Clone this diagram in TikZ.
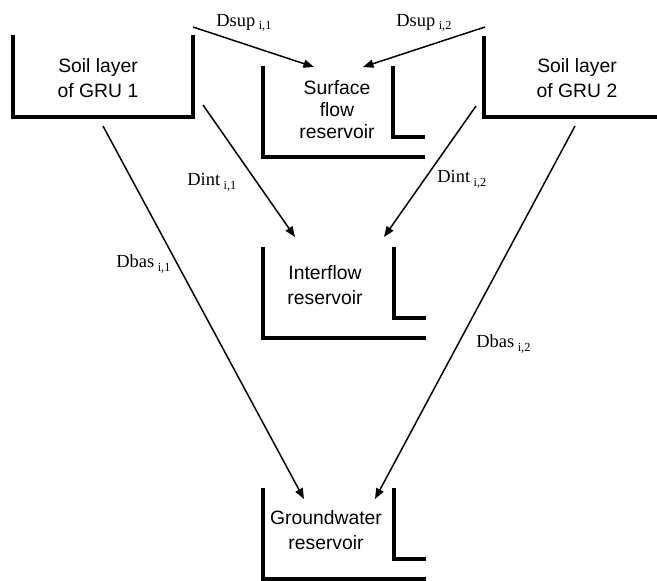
\documentclass[tikz,border=0pt]{standalone}
\usepackage{fontspec}
\setmainfont{Liberation Serif}
\setsansfont{Liberation Sans}
\usetikzlibrary{arrows.meta}

% small lowered index after a flux name
\newcommand{\fluxidx}[1]{\hspace{2pt}\raisebox{-0.4ex}{\fontsize{7}{8}\selectfont #1}}

\begin{document}
\begin{tikzpicture}[
    x=0.02cm, y=-0.02cm,
    wall/.style={draw=black, line width=2pt},
    flow/.style={-{Triangle[length=6pt,width=4.6pt]}, draw=black, line width=0.85pt},
    store/.style={font=\sffamily\fontsize{11}{14}\selectfont, align=center, inner sep=0pt},
    fluxlab/.style={font=\fontsize{10.5}{12}\selectfont, anchor=base west, inner sep=0pt}
    ]
    \useasboundingbox (0,0) rectangle (657,581);

    % reservoirs
    \node[store] (soil1) at (98,78) {Soil layer\\of GRU 1};
    \node[store] (soil2) at (577,78) {Soil layer\\of GRU 2};
    \node[store, font=\sffamily\fontsize{11}{12.5}\selectfont] (surf) at (337,110) {Surface\\flow\\reservoir};
    \node[store] (inter) at (325,285) {Interflow\\reservoir};
    \node[store] (ground) at (326,530) {Groundwater\\reservoir};

    \draw[wall] (13,35) |- (193,117) -- (193,35);
    \draw[wall] (484,36) |- (657,117);
    \draw[wall] (263,66) |- (425,157);
    \draw[wall] (393,66) |- (425,137);
    \draw[wall] (263,247) |- (426,338);
    \draw[wall] (394,247) |- (426,318);
    \draw[wall] (263,488) |- (426,579);
    \draw[wall] (394,488) |- (426,559);

    % arrow ends
    \coordinate (sup1-a) at (193,27);
    \coordinate (sup1-b) at (314,67);
    \coordinate (sup2-a) at (485,27);
    \coordinate (sup2-b) at (363,67);
    \coordinate (int1-a) at (203,105);
    \coordinate (int1-b) at (295,237);
    \coordinate (int2-a) at (476,106);
    \coordinate (int2-b) at (384,237);
    \coordinate (bas1-a) at (103,126);
    \coordinate (bas1-b) at (304,499);
    \coordinate (bas2-a) at (575,126);
    \coordinate (bas2-b) at (375,499);

    \draw[flow] (sup1-a) -- (sup1-b);
    \draw[flow] (sup2-a) -- (sup2-b);
    \draw[flow] (int1-a) -- (int1-b);
    \draw[flow] (int2-a) -- (int2-b);
    \draw[flow] (bas1-a) -- (bas1-b);
    \draw[flow] (bas2-a) -- (bas2-b);

    \node[fluxlab] (lsup1) at (216,26.5) {Dsup\fluxidx{i,1}};
    \node[fluxlab] (lsup2) at (396,26.5) {Dsup\fluxidx{i,2}};
    \node[fluxlab] (lint1) at (187,186) {Dint\fluxidx{i,1}};
    \node[fluxlab] (lint2) at (437,183) {Dint\fluxidx{i,2}};
    \node[fluxlab] (lbas1) at (116,268) {Dbas\fluxidx{i,1}};
    \node[fluxlab] (lbas2) at (476,348) {Dbas\fluxidx{i,2}};
  \end{tikzpicture}
\end{document}
